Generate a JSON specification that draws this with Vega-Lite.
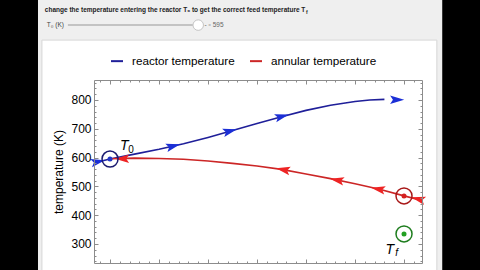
{
  "$schema": "https://vega.github.io/schema/vega-lite/v6.json",
  "width": 328,
  "height": 183,
  "autosize": {"type": "none"},
  "padding": {"left": 94, "top": 80, "right": 58, "bottom": 7},
  "background": "#000000",
  "config": {
    "view": {"stroke": null},
    "font": "Liberation Sans",
    "axis": {"domainColor": "#8c8c8c", "tickColor": "#8c8c8c", "grid": false, "labelColor": "#000000", "labelFont": "Liberation Sans"}
  },
  "datasets": {
    "curves": [
      {"series": "reactor temperature", "position": -0.32, "temperature": 582},
      {"series": "reactor temperature", "position": 0, "temperature": 595},
      {"series": "reactor temperature", "position": 0.5, "temperature": 612},
      {"series": "reactor temperature", "position": 1.0, "temperature": 629},
      {"series": "reactor temperature", "position": 1.5, "temperature": 648},
      {"series": "reactor temperature", "position": 2.0, "temperature": 670},
      {"series": "reactor temperature", "position": 2.5, "temperature": 694},
      {"series": "reactor temperature", "position": 3.0, "temperature": 718},
      {"series": "reactor temperature", "position": 3.5, "temperature": 742},
      {"series": "reactor temperature", "position": 4.0, "temperature": 764},
      {"series": "reactor temperature", "position": 4.5, "temperature": 782},
      {"series": "reactor temperature", "position": 5.0, "temperature": 795},
      {"series": "reactor temperature", "position": 5.3, "temperature": 800},
      {"series": "reactor temperature", "position": 5.6, "temperature": 802},
      {"series": "annular temperature", "position": 0, "temperature": 596},
      {"series": "annular temperature", "position": 0.5, "temperature": 598},
      {"series": "annular temperature", "position": 1.0, "temperature": 597},
      {"series": "annular temperature", "position": 1.5, "temperature": 594},
      {"series": "annular temperature", "position": 2.0, "temperature": 588},
      {"series": "annular temperature", "position": 2.5, "temperature": 580},
      {"series": "annular temperature", "position": 3.0, "temperature": 571},
      {"series": "annular temperature", "position": 3.5, "temperature": 559},
      {"series": "annular temperature", "position": 4.0, "temperature": 543},
      {"series": "annular temperature", "position": 4.5, "temperature": 527},
      {"series": "annular temperature", "position": 5.0, "temperature": 509},
      {"series": "annular temperature", "position": 5.5, "temperature": 490},
      {"series": "annular temperature", "position": 6.0, "temperature": 467},
      {"series": "annular temperature", "position": 6.35, "temperature": 452}
    ],
    "arrows": [
      {"group": "reactor mid", "position": 1.29, "temperature": 640},
      {"group": "reactor mid", "position": 2.45, "temperature": 692},
      {"group": "reactor mid", "position": 3.51, "temperature": 743},
      {"group": "reactor end", "position": 5.86, "temperature": 801},
      {"group": "reactor in", "position": -0.245, "temperature": 586},
      {"group": "annular mid", "position": 3.53, "temperature": 558},
      {"group": "annular mid", "position": 4.63, "temperature": 522},
      {"group": "annular mid", "position": 5.47, "temperature": 491},
      {"group": "annular in", "position": 6.29, "temperature": 456},
      {"group": "annular out", "position": 0.245, "temperature": 596}
    ],
    "markers": [
      {"name": "T0", "position": 0, "temperature": 595},
      {"name": "annular end", "position": 6.0, "temperature": 467},
      {"name": "Tf", "position": 6.0, "temperature": 335}
    ]
  },
  "resolve": {"axis": {"x": "independent", "y": "independent"}},
  "layer": [
    {
      "data": {"values": [{}]},
      "mark": {"type": "rect", "color": "#efefef", "clip": false},
      "encoding": {
        "x": {"datum": -1.47, "type": "quantitative", "axis": null},
        "x2": {"datum": 6.78},
        "y": {"datum": 1160, "type": "quantitative", "axis": null},
        "y2": {"datum": 150}
      }
    },
    {
      "data": {"values": [{}]},
      "mark": {"type": "rect", "fill": "#ffffff", "stroke": "#d6d6d6", "strokeWidth": 1, "clip": false},
      "encoding": {
        "x": {"datum": -1.39, "type": "quantitative", "axis": null},
        "x2": {"datum": 6.67},
        "y": {"datum": 1008, "type": "quantitative", "axis": null},
        "y2": {"datum": 150}
      }
    },
    {
      "data": {"values": [{}]},
      "mark": {"type": "text", "align": "left", "baseline": "middle", "fontSize": 6.5, "fontWeight": "bold", "color": "#222222"},
      "encoding": {
        "x": {"datum": -1.33, "type": "quantitative", "axis": null},
        "y": {"datum": 1112, "type": "quantitative", "axis": null},
        "text": {"value": "change the temperature entering the reactor T₀ to get the correct feed temperature T"}
      }
    },
    {
      "data": {"values": [{}]},
      "mark": {"type": "text", "align": "left", "baseline": "middle", "fontSize": 5, "fontWeight": "bold", "color": "#222222"},
      "encoding": {
        "x": {"datum": 4.0, "type": "quantitative", "axis": null},
        "y": {"datum": 1106, "type": "quantitative", "axis": null},
        "text": {"value": "f"}
      }
    },
    {
      "data": {"values": [{}]},
      "mark": {"type": "text", "align": "left", "baseline": "middle", "fontSize": 6.5, "color": "#444444"},
      "encoding": {
        "x": {"datum": -1.29, "type": "quantitative", "axis": null},
        "y": {"datum": 1060, "type": "quantitative", "axis": null},
        "text": {"value": "T₀ (K)"}
      }
    },
    {
      "data": {"values": [{}]},
      "mark": {"type": "rule", "color": "#b4b4b4", "strokeWidth": 1.5},
      "encoding": {
        "x": {"datum": -0.86, "type": "quantitative", "axis": null},
        "x2": {"datum": 1.69},
        "y": {"datum": 1060, "type": "quantitative", "axis": null}
      }
    },
    {
      "data": {"values": [{}]},
      "mark": {"type": "point", "shape": "circle", "size": 110, "filled": true, "fill": "#ffffff", "stroke": "#c4c4c4", "strokeWidth": 1, "opacity": 1},
      "encoding": {
        "x": {"datum": 1.8, "type": "quantitative", "axis": null},
        "y": {"datum": 1060, "type": "quantitative", "axis": null}
      }
    },
    {
      "data": {"values": [{}]},
      "mark": {"type": "text", "align": "left", "baseline": "middle", "fontSize": 6.5, "color": "#666666"},
      "encoding": {
        "x": {"datum": 1.93, "type": "quantitative", "axis": null},
        "y": {"datum": 1060, "type": "quantitative", "axis": null},
        "text": {"value": "- ▫ 595"}
      }
    },
    {
      "data": {"name": "curves"},
      "mark": {"type": "line", "strokeWidth": 1.6},
      "encoding": {
        "x": {"field": "position", "type": "quantitative", "scale": {"domain": [-0.327, 6.367], "nice": false, "zero": false},
          "axis": {"orient": "bottom", "zindex": 2, "values": [0, 1, 2, 3, 4, 5, 6], "labels": false, "tickSize": -4, "title": null}},
        "y": {"field": "temperature", "type": "quantitative", "scale": {"domain": [234, 869.4], "nice": false, "zero": false},
          "axis": {"orient": "left", "zindex": 2, "values": [300, 400, 500, 600, 700, 800], "tickSize": -4, "labelFontSize": 12, "labelPadding": 7, "title": "temperature (K)", "titleFontSize": 12, "titleFontWeight": "normal", "titleColor": "#000000", "titleFont": "Liberation Sans", "titlePadding": 5}},
        "color": {"field": "series", "type": "nominal",
          "scale": {"domain": ["reactor temperature", "annular temperature"], "range": ["#1f1f99", "#cc2626"]},
          "legend": {"orient": "none", "legendX": 16, "legendY": -26, "direction": "horizontal", "title": null, "symbolType": "stroke", "symbolSize": 144, "symbolStrokeWidth": 2, "labelFontSize": 11.7, "labelFont": "Liberation Sans", "labelColor": "#000000", "columnPadding": 11, "labelOffset": 8}}
      }
    },
    {
      "data": {"name": "arrows"},
      "transform": [{"filter": "datum.group === 'reactor mid'"}],
      "mark": {"type": "point", "shape": "M1,0L-1,-0.6L-0.6,0L-1,0.6Z", "size": 200, "filled": true, "color": "#1b2fd6", "opacity": 1, "angle": 345},
      "encoding": {
        "x": {"field": "position", "type": "quantitative",
          "axis": {"orient": "bottom", "zindex": 2, "values": [-0.2, 0.2, 0.4, 0.6, 0.8, 1.2, 1.4, 1.6, 1.8, 2.2, 2.4, 2.6, 2.8, 3.2, 3.4, 3.6, 3.8, 4.2, 4.4, 4.6, 4.8, 5.2, 5.4, 5.6, 5.8, 6.2], "labels": false, "tickSize": -2, "domain": false, "title": null}},
        "y": {"field": "temperature", "type": "quantitative",
          "axis": {"orient": "left", "zindex": 2, "values": [240, 260, 280, 320, 340, 360, 380, 420, 440, 460, 480, 520, 540, 560, 580, 620, 640, 660, 680, 720, 740, 760, 780, 820, 840, 860], "labels": false, "tickSize": -2, "domain": false, "title": null}}
      }
    },
    {
      "data": {"name": "arrows"},
      "transform": [{"filter": "datum.group === 'reactor end'"}],
      "mark": {"type": "point", "shape": "M1,0L-1,-0.6L-0.6,0L-1,0.6Z", "size": 200, "filled": true, "color": "#1b2fd6", "opacity": 1, "angle": 0},
      "encoding": {
        "x": {"field": "position", "type": "quantitative", "axis": null},
        "y": {"field": "temperature", "type": "quantitative", "axis": null}
      }
    },
    {
      "data": {"name": "arrows"},
      "transform": [{"filter": "datum.group === 'reactor in'"}],
      "mark": {"type": "point", "shape": "M1,0L-1,-0.6L-0.6,0L-1,0.6Z", "size": 200, "filled": true, "color": "#1b2fd6", "opacity": 1, "angle": 348},
      "encoding": {
        "x": {"field": "position", "type": "quantitative", "axis": null},
        "y": {"field": "temperature", "type": "quantitative", "axis": null}
      }
    },
    {
      "data": {"name": "arrows"},
      "transform": [{"filter": "datum.group === 'annular mid'"}],
      "mark": {"type": "point", "shape": "M1,0L-1,-0.6L-0.6,0L-1,0.6Z", "size": 200, "filled": true, "color": "#ee2424", "opacity": 1, "angle": 191},
      "encoding": {
        "x": {"field": "position", "type": "quantitative", "axis": null},
        "y": {"field": "temperature", "type": "quantitative", "axis": null}
      }
    },
    {
      "data": {"name": "arrows"},
      "transform": [{"filter": "datum.group === 'annular in'"}],
      "mark": {"type": "point", "shape": "M1,0L-1,-0.6L-0.6,0L-1,0.6Z", "size": 200, "filled": true, "color": "#ee2424", "opacity": 1, "angle": 194},
      "encoding": {
        "x": {"field": "position", "type": "quantitative", "axis": null},
        "y": {"field": "temperature", "type": "quantitative", "axis": null}
      }
    },
    {
      "data": {"name": "arrows"},
      "transform": [{"filter": "datum.group === 'annular out'"}],
      "mark": {"type": "point", "shape": "M1,0L-1,-0.6L-0.6,0L-1,0.6Z", "size": 200, "filled": true, "color": "#ee2424", "opacity": 1, "angle": 180},
      "encoding": {
        "x": {"field": "position", "type": "quantitative", "axis": null},
        "y": {"field": "temperature", "type": "quantitative", "axis": null}
      }
    },
    {
      "data": {"name": "markers"},
      "mark": {"type": "point", "shape": "circle", "size": 256, "filled": false, "strokeWidth": 1.5, "opacity": 1},
      "encoding": {
        "x": {"field": "position", "type": "quantitative",
          "axis": {"orient": "top", "zindex": 2, "values": [0, 1, 2, 3, 4, 5, 6], "labels": false, "tickSize": -4, "title": null}},
        "y": {"field": "temperature", "type": "quantitative",
          "axis": {"orient": "right", "zindex": 2, "values": [300, 400, 500, 600, 700, 800], "labels": false, "tickSize": -4, "title": null}},
        "stroke": {"field": "name", "type": "nominal", "scale": {"domain": ["T0", "annular end", "Tf"], "range": ["#1b1b70", "#a81818", "#1e7d1e"]}, "legend": null}
      }
    },
    {
      "data": {"name": "markers"},
      "mark": {"type": "point", "shape": "circle", "size": 25, "filled": true, "opacity": 1},
      "encoding": {
        "x": {"field": "position", "type": "quantitative",
          "axis": {"orient": "top", "zindex": 2, "values": [-0.2, 0.2, 0.4, 0.6, 0.8, 1.2, 1.4, 1.6, 1.8, 2.2, 2.4, 2.6, 2.8, 3.2, 3.4, 3.6, 3.8, 4.2, 4.4, 4.6, 4.8, 5.2, 5.4, 5.6, 5.8, 6.2], "labels": false, "tickSize": -2, "domain": false, "title": null}},
        "y": {"field": "temperature", "type": "quantitative",
          "axis": {"orient": "right", "zindex": 2, "values": [240, 260, 280, 320, 340, 360, 380, 420, 440, 460, 480, 520, 540, 560, 580, 620, 640, 660, 680, 720, 740, 760, 780, 820, 840, 860], "labels": false, "tickSize": -2, "domain": false, "title": null}},
        "fill": {"field": "name", "type": "nominal", "scale": {"domain": ["T0", "annular end", "Tf"], "range": ["#2236c8", "#d42020", "#22a022"]}, "legend": null}
      }
    },
    {
      "data": {"values": [{}]},
      "mark": {"type": "text", "align": "center", "baseline": "middle", "fontSize": 14, "fontStyle": "italic", "color": "#000000"},
      "encoding": {
        "x": {"datum": 0.29, "type": "quantitative", "axis": null},
        "y": {"datum": 640, "type": "quantitative", "axis": null},
        "text": {"value": "T"}
      }
    },
    {
      "data": {"values": [{}]},
      "mark": {"type": "text", "align": "center", "baseline": "middle", "fontSize": 10, "color": "#000000"},
      "encoding": {
        "x": {"datum": 0.43, "type": "quantitative", "axis": null},
        "y": {"datum": 627, "type": "quantitative", "axis": null},
        "text": {"value": "0"}
      }
    },
    {
      "data": {"values": [{}]},
      "mark": {"type": "text", "align": "center", "baseline": "middle", "fontSize": 14, "fontStyle": "italic", "color": "#000000"},
      "encoding": {
        "x": {"datum": 5.71, "type": "quantitative", "axis": null},
        "y": {"datum": 279, "type": "quantitative", "axis": null},
        "text": {"value": "T"}
      }
    },
    {
      "data": {"values": [{}]},
      "mark": {"type": "text", "align": "center", "baseline": "middle", "fontSize": 10, "fontStyle": "italic", "color": "#000000"},
      "encoding": {
        "x": {"datum": 5.85, "type": "quantitative", "axis": null},
        "y": {"datum": 268, "type": "quantitative", "axis": null},
        "text": {"value": "f"}
      }
    }
  ]
}
